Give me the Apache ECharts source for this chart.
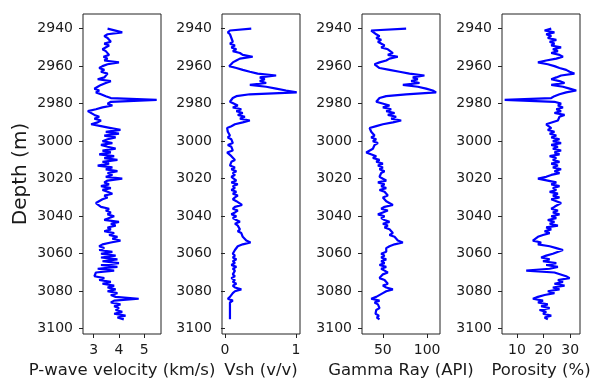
<!DOCTYPE html>
<html>
<head>
<meta charset="utf-8">
<script src="https://cdn.jsdelivr.net/npm/echarts@6/dist/echarts.min.js"></script>
<style>
  html, body { margin: 0; padding: 0; background: #fff; }
  #chart { width: 594px; height: 378px; }
</style>
</head>
<body>
<div id="chart"></div>
<script>
// Depth samples (m), one per metre
const depth = [
  2940,2941,2942,2943,2944,2945,2946,2947,2948,2949,
  2950,2951,2952,2953,2954,2955,2956,2957,2958,2959,
  2960,2961,2962,2963,2964,2965,2966,2967,2968,2969,
  2970,2971,2972,2973,2974,2975,2976,2977,2978,2979,
  2980,2981,2982,2983,2984,2985,2986,2987,2988,2989,
  2990,2991,2992,2993,2994,2995,2996,2997,2998,2999,
  3000,3001,3002,3003,3004,3005,3006,3007,3008,3009,
  3010,3011,3012,3013,3014,3015,3016,3017,3018,3019,
  3020,3021,3022,3023,3024,3025,3026,3027,3028,3029,
  3030,3031,3032,3033,3034,3035,3036,3037,3038,3039,
  3040,3041,3042,3043,3044,3045,3046,3047,3048,3049,
  3050,3051,3052,3053,3054,3055,3056,3057,3058,3059,
  3060,3061,3062,3063,3064,3065,3066,3067,3068,3069,
  3070,3071,3072,3073,3074,3075,3076,3077,3078,3079,
  3080,3081,3082,3083,3084,3085,3086,3087,3088,3089,
  3090,3091,3092,3093,3094,3095
];

// P-wave velocity (km/s)
const vp = [
  3.55,3.48,4.13,3.55,3.42,3.55,3.48,3.68,3.42,3.61,
  3.55,3.35,3.48,3.42,3.61,3.39,3.55,3.42,4.00,3.55,
  3.35,3.22,3.42,3.29,3.55,3.61,3.42,3.16,3.68,3.48,
  3.29,3.16,3.03,3.22,3.09,3.29,3.48,3.68,5.49,3.68,
  3.55,3.74,3.35,3.09,2.77,2.70,3.03,3.22,3.03,3.29,
  3.16,2.90,3.29,3.68,4.06,3.48,4.00,3.42,3.87,3.55,
  3.35,3.74,3.29,3.55,3.87,3.35,3.68,3.22,3.81,3.42,
  3.94,3.35,3.61,3.16,3.74,3.48,3.94,3.55,3.74,3.48,
  4.13,3.55,3.42,3.61,3.29,3.68,3.35,3.55,3.74,3.42,
  3.55,3.35,3.29,3.09,3.03,3.29,3.61,3.48,3.68,3.55,
  3.81,3.61,3.42,4.00,3.68,3.87,3.55,3.68,3.42,3.81,
  3.61,3.94,3.74,4.06,3.68,3.35,3.22,3.42,3.22,3.74,
  3.29,3.87,3.29,3.94,3.35,4.00,3.29,3.94,3.16,3.81,
  3.09,3.03,3.03,3.42,3.22,3.68,3.35,3.81,3.55,3.87,
  3.55,3.94,3.68,3.87,4.78,3.81,3.68,4.06,3.81,4.00,
  3.87,4.13,3.81,4.26,3.94,4.19
];

// Shale volume (v/v)
const vsh = [
  0.37,0.07,0.04,0.07,0.06,0.09,0.07,0.11,0.07,0.14,
  0.09,0.16,0.11,0.21,0.25,0.39,0.21,0.16,0.11,0.09,
  0.06,0.16,0.25,0.35,0.46,0.72,0.49,0.56,0.49,0.58,
  0.35,0.58,0.72,0.86,1.01,0.35,0.16,0.11,0.09,0.07,
  0.06,0.18,0.11,0.23,0.16,0.25,0.18,0.28,0.21,0.35,
  0.25,0.14,0.09,0.03,0.02,0.04,0.02,0.07,0.04,0.09,
  0.07,0.11,0.04,0.09,0.07,0.11,0.03,0.01,0.09,0.07,
  0.14,0.09,0.11,0.07,0.14,0.09,0.16,0.11,0.14,0.09,
  0.11,0.16,0.09,0.18,0.11,0.14,0.09,0.16,0.11,0.18,
  0.14,0.11,0.16,0.14,0.24,0.14,0.11,0.18,0.14,0.09,
  0.16,0.11,0.16,0.21,0.14,0.18,0.16,0.21,0.18,0.23,
  0.21,0.25,0.23,0.30,0.36,0.25,0.18,0.16,0.14,0.16,
  0.11,0.14,0.11,0.16,0.11,0.14,0.09,0.16,0.11,0.14,
  0.16,0.11,0.14,0.09,0.14,0.11,0.16,0.11,0.14,0.23,
  0.14,0.11,0.09,0.07,0.04,0.11,0.07,0.09,0.07,0.09,
  0.07,0.09,0.07,0.09,0.07,0.07
];

// Gamma ray (API)
const gr = [
  76.3,36.8,38.7,42.5,46.2,42.5,48.1,44.4,46.2,51.9,
  48.1,55.6,53.8,61.3,55.6,66.9,57.5,53.8,46.2,40.6,
  38.7,46.2,57.5,68.8,80.1,97.0,83.8,89.5,82.0,91.4,
  72.6,89.5,98.9,106.4,110.2,76.3,53.8,46.2,44.4,42.5,
  44.4,57.5,50.0,59.4,53.8,63.2,55.6,65.0,59.4,70.7,
  61.3,50.0,42.5,35.0,33.1,36.8,35.0,40.6,36.8,42.5,
  38.7,44.4,40.6,42.5,38.7,36.8,31.2,30.4,42.5,38.7,
  46.2,42.5,50.0,44.4,50.0,46.2,51.9,48.1,50.0,46.2,
  50.0,53.8,44.4,51.9,48.1,53.8,46.2,51.9,50.0,55.6,
  50.0,48.1,53.8,51.9,61.3,51.9,48.1,55.6,50.0,44.4,
  51.9,48.1,51.9,57.5,50.0,55.6,51.9,57.5,55.6,61.3,
  57.5,63.2,61.3,66.9,72.6,63.2,57.5,53.8,51.9,53.8,
  48.1,51.9,48.1,53.8,48.1,51.9,46.2,53.8,48.1,51.9,
  55.6,50.0,51.9,46.2,51.9,50.0,55.6,50.0,53.8,61.3,
  53.8,50.0,48.1,42.5,36.8,46.2,40.6,44.4,42.5,46.2,
  42.5,44.4,41.7,45.5,43.2,46.2
];

// Porosity (%)
const porosity = [
  22.9,20.4,24.1,21.0,22.9,21.6,24.8,22.3,24.1,22.9,
  26.6,23.5,25.4,22.9,26.0,27.3,24.8,21.0,17.9,21.6,
  24.1,26.0,28.5,29.8,31.6,26.6,24.8,22.9,26.0,27.9,
  22.9,27.3,29.8,32.3,28.5,26.0,24.1,22.9,5.4,24.1,
  26.6,25.4,27.3,24.8,26.6,24.1,27.9,26.0,26.6,25.4,
  24.8,21.0,21.0,22.9,21.6,24.1,22.3,24.8,22.9,26.0,
  23.5,26.6,22.9,25.4,23.5,26.6,24.1,26.0,22.3,24.8,
  23.5,26.0,22.9,25.4,23.5,26.6,24.1,26.0,22.9,21.0,
  17.9,21.6,24.8,22.9,26.0,23.5,24.8,22.3,25.4,23.5,
  26.0,22.9,24.8,26.6,27.3,24.1,22.9,25.4,23.5,26.0,
  22.9,24.8,21.6,24.1,22.3,25.4,21.0,22.9,20.4,22.3,
  19.8,17.9,18.5,16.0,19.1,17.9,22.3,24.8,27.3,27.9,
  23.5,21.0,19.1,22.3,19.8,24.8,21.0,25.4,22.3,13.5,
  24.1,23.5,28.5,29.8,25.4,27.3,24.1,27.9,23.5,26.0,
  21.6,24.1,20.4,17.9,16.0,19.8,17.9,21.6,19.1,22.3,
  18.5,21.0,19.8,22.9,20.4,21.6
];

// Tick labels
const depthTicks = [2940, 2960, 2980, 3000, 3020, 3040, 3060, 3080, 3100];
const vpTicks = [3, 4, 5];
const vshTicks = [0, 1];
const grTicks = [50, 100];
const porTicks = [10, 20, 30];

// Track titles
const trackNames = ['P-wave velocity (km/s)', 'Vsh (v/v)', 'Gamma Ray (API)', 'Porosity (%)'];

const FONT = 'DejaVu Sans';
const TXT = '#1a1a1a';

const tracks = [
  { values: vp,       ticks: vpTicks,  min: 2.58,  max: 5.66 },
  { values: vsh,      ticks: vshTicks, min: -0.042, max: 1.056 },
  { values: gr,       ticks: grTicks,  min: 26.4,  max: 114.6 },
  { values: porosity, ticks: porTicks, min: 4.4,   max: 33.7 }
];
const lefts = [83, 222, 362, 502];
const plain = v => String(v);

const grids = [], xAxes = [], yAxes = [], series = [];
tracks.forEach((t, i) => {
  grids.push({
    left: lefts[i], top: 14, width: 78, height: 320,
    outerBoundsMode: 'none', containLabel: false,
    show: true, borderColor: '#222', borderWidth: 1, backgroundColor: 'transparent'
  });
  xAxes.push({
    type: 'value', gridIndex: i, position: 'bottom',
    min: t.min, max: t.max,
    name: trackNames[i], nameLocation: 'middle', nameGap: 26,
    nameTextStyle: { fontFamily: FONT, fontSize: 16.5, color: TXT },
    axisLine: { show: false },
    splitLine: { show: false },
    axisTick: { show: true, length: 4, customValues: t.ticks, lineStyle: { color: '#222' } },
    axisLabel: { customValues: t.ticks, formatter: plain, fontFamily: FONT, fontSize: 14, color: TXT, margin: 9 }
  });
  yAxes.push({
    type: 'value', gridIndex: i, inverse: true,
    min: 2932.2, max: 3102.8,
    name: i === 0 ? 'Depth (m)' : '', nameLocation: 'middle', nameGap: 52,
    nameTextStyle: { fontFamily: FONT, fontSize: 20, color: TXT },
    axisLine: { show: false },
    splitLine: { show: false },
    axisTick: { show: true, length: 4, customValues: depthTicks, lineStyle: { color: '#222' } },
    axisLabel: { customValues: depthTicks, formatter: plain, fontFamily: FONT, fontSize: 14, color: TXT, margin: 10 }
  });
  series.push({
    type: 'line', xAxisIndex: i, yAxisIndex: i,
    data: depth.map((d, k) => [t.values[k], d]),
    showSymbol: false, symbol: 'none',
    lineStyle: { color: '#0000ff', width: 2.2 },
    animation: false
  });
});

const chart = echarts.init(document.getElementById('chart'), null, { renderer: 'canvas' });
chart.setOption({
  backgroundColor: '#ffffff',
  animation: false,
  grid: grids,
  xAxis: xAxes,
  yAxis: yAxes,
  series: series
});
</script>
</body>
</html>
